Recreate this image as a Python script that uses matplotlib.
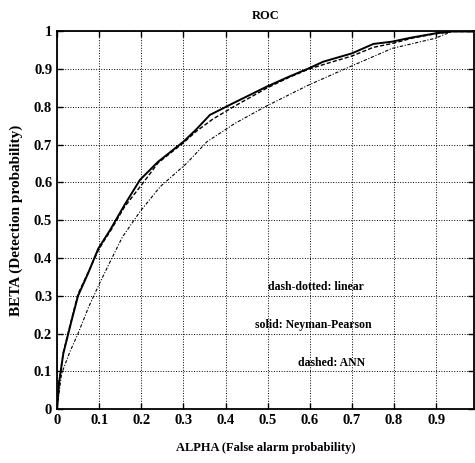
import matplotlib
matplotlib.use('Agg')
import matplotlib.pyplot as plt

# ROC curves
np_alpha = [0.0, 0.005, 0.015, 0.035, 0.05, 0.074, 0.098, 0.114, 0.126, 0.16, 0.197,
            0.24, 0.30, 0.33, 0.363, 0.418, 0.498, 0.55, 0.597, 0.632, 0.70,
            0.751, 0.795, 0.842, 0.898, 0.937, 0.99]
np_beta = [0.0, 0.07, 0.147, 0.236, 0.30, 0.36, 0.425, 0.453, 0.474, 0.54, 0.607,
           0.655, 0.708, 0.74, 0.779, 0.81, 0.854, 0.88, 0.902, 0.92, 0.942,
           0.967, 0.973, 0.984, 0.995, 1.0, 1.0]

ann_alpha = [0.0, 0.005, 0.015, 0.035, 0.05, 0.074, 0.098, 0.114, 0.126, 0.16, 0.205,
             0.24, 0.30, 0.33, 0.37, 0.418, 0.498, 0.55, 0.597, 0.64, 0.70,
             0.751, 0.795, 0.842, 0.898, 0.937, 0.99]
ann_beta = [0.0, 0.075, 0.15, 0.24, 0.305, 0.362, 0.42, 0.45, 0.47, 0.535, 0.600,
            0.652, 0.705, 0.735, 0.768, 0.80, 0.850, 0.878, 0.900, 0.915, 0.935,
            0.958, 0.968, 0.982, 0.994, 1.0, 1.0]

lin_alpha = [0.0, 0.011, 0.03, 0.05, 0.075, 0.102, 0.126, 0.155, 0.197, 0.245,
             0.308, 0.356, 0.423, 0.498, 0.597, 0.696, 0.795, 0.898, 0.937, 0.99]
lin_beta = [0.0, 0.094, 0.15, 0.20, 0.27, 0.335, 0.39, 0.455, 0.523, 0.589,
            0.651, 0.708, 0.757, 0.803, 0.858, 0.907, 0.955, 0.982, 1.0, 1.0]

x_ticks = [0, 0.1, 0.2, 0.3, 0.4, 0.5, 0.6, 0.7, 0.8, 0.9]
x_tick_labels = ['0', '0.1', '0.2', '0.3', '0.4', '0.5', '0.6', '0.7', '0.8', '0.9']
y_ticks = [0, 0.1, 0.2, 0.3, 0.4, 0.5, 0.6, 0.7, 0.8, 0.9, 1.0]
y_tick_labels = ['0', '0.1', '0.2', '0.3', '0.4', '0.5', '0.6', '0.7', '0.8', '0.9', '1']

plt.rcParams['font.family'] = ['Liberation Serif', 'DejaVu Serif']
plt.rcParams['font.weight'] = 'bold'

fig = plt.figure(figsize=(4.75, 4.63), dpi=100)
ax = fig.add_axes([0.12, 0.1166, 0.878, 0.8154])

ax.plot(np_alpha, np_beta, '-', color='black', linewidth=1.4)
ax.plot(ann_alpha, ann_beta, '--', color='black', linewidth=1.0, dashes=(3, 1.5))
ax.plot(lin_alpha, lin_beta, '-.', color='black', linewidth=0.8, dashes=(3, 1.5, 1, 1.5))

ax.set_xlim(0, 0.99)
ax.set_ylim(0, 1)
ax.set_xticks(x_ticks)
ax.set_xticklabels(x_tick_labels)
ax.set_yticks(y_ticks)
ax.set_yticklabels(y_tick_labels)
ax.tick_params(direction='in', length=4, width=1, labelsize=10.5, top=True, right=True)
ax.grid(True, color='black', linestyle=':', linewidth=0.7)
for s in ax.spines.values():
    s.set_linewidth(1.3)

ax.set_title('ROC', fontsize=9, fontweight='bold', pad=9)
ax.set_xlabel('ALPHA (False alarm probability)', fontsize=9, fontweight='bold', labelpad=11)
ax.set_ylabel('BETA (Detection probability)', fontsize=11, fontweight='bold', labelpad=8)

ax.text(0.501, 0.323, 'dash-dotted: linear', fontsize=8.5, va='center')
ax.text(0.47, 0.222, 'solid: Neyman-Pearson', fontsize=8.5, va='center')
ax.text(0.572, 0.123, 'dashed: ANN', fontsize=8.5, va='center')

fig.savefig('out.png', dpi=100)
